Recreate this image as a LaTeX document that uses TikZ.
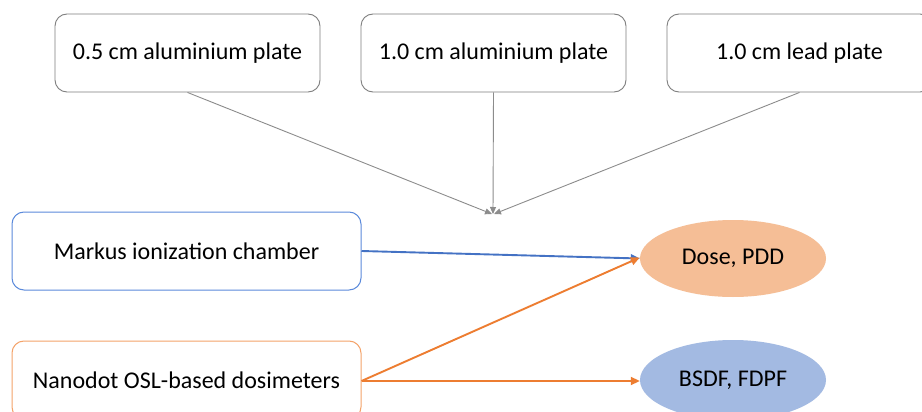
\documentclass[tikz,border=0pt]{standalone}
\usepackage{fontspec}
\setmainfont{Carlito}
\usetikzlibrary{arrows.meta,shapes.geometric}
\definecolor{boxgray}{HTML}{7F7F7F}
\definecolor{linegray}{HTML}{8C8C8C}
\definecolor{myblue}{HTML}{4472C4}
\definecolor{boxblue}{HTML}{5B8ADB}
\definecolor{myorange}{HTML}{ED7D31}
\definecolor{lightorange}{HTML}{F4A36A}
\definecolor{dosefill}{HTML}{F5BE96}
\definecolor{bsdffill}{HTML}{A3BAE2}
\tikzset{
  platebox/.style={draw=boxgray, line width=0.9pt, rounded corners=12pt, minimum width=265pt, minimum height=78pt, fill=white, font=\fontsize{24}{28}\selectfont, inner sep=0pt},
  detbox/.style={rounded corners=12pt, line width=1pt, minimum width=349pt, minimum height=78pt, fill=white, font=\fontsize{24}{28}\selectfont, inner sep=0pt},
  outell/.style={ellipse, draw=none, minimum width=186pt, font=\fontsize{24}{28}\selectfont, inner sep=0pt},
  grayarrow/.style={draw=linegray, line width=0.9pt, -{Triangle[length=7pt,width=6pt]}},
  colarrow/.style={line width=1.9pt, -{Triangle[length=9pt,width=8pt]}}
}
\begin{document}
\begin{tikzpicture}[x=1pt,y=-1pt]
\clip (0,0) rectangle (922,412);
\fill[white] (0,0) rectangle (922,412);
\node[platebox] (p1) at (187.5,53) {0.5 cm aluminium plate};
\node[platebox] (p2) at (493.5,53) {1.0 cm aluminium plate};
\node[platebox] (p3) at (799.5,53) {1.0 cm lead plate};
\node[detbox, draw=boxblue] (mk) at (186.5,251) {Markus ionization chamber};
\node[detbox, draw=lightorange] (nd) at (186.5,380) {Nanodot OSL-based dosimeters};
\node[outell, fill=dosefill, minimum height=77pt] (dose) at (733,258.5) {Dose, PDD};
\node[outell, fill=bsdffill, minimum height=80pt] (bsdf) at (733,380) {BSDF, FDPF};
\coordinate (conv) at (493,214);
\draw[grayarrow] (p1.south) -- ([xshift=-1pt]conv);
\draw[grayarrow] (p2.south) -- (conv);
\draw[grayarrow] (p3.south) -- ([xshift=1pt]conv);
\draw[colarrow, draw=myblue, fill=myblue] (mk.east) -- (dose.west);
\draw[colarrow, draw=myorange, fill=myorange] ([yshift=-1pt]nd.east) -- ([yshift=1pt]dose.west);
\draw[colarrow, draw=myorange, fill=myorange] ([yshift=-1pt]nd.east) -- ([yshift=-1pt]bsdf.west);
\end{tikzpicture}
\end{document}
